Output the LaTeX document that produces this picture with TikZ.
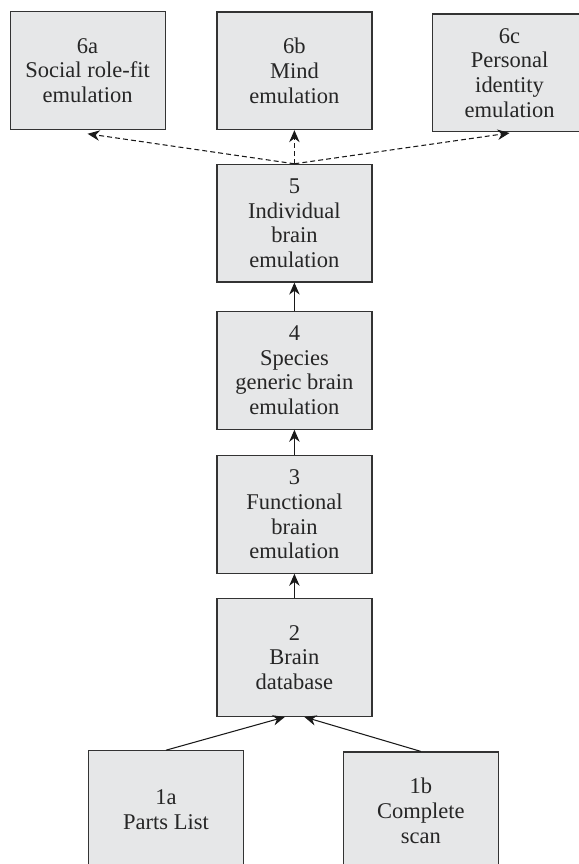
\documentclass[tikz,border=0pt]{standalone}
\usepackage{fontspec}
\setmainfont{Liberation Serif}
\usetikzlibrary{arrows.meta}
\definecolor{boxgray}{RGB}{230,231,232}
\tikzset{
    stage/.style={draw=black!80, fill=boxgray, line width=0.85pt,
        minimum width=3.875cm, minimum height=2.94cm, inner sep=0pt,
        align=center, text=black!85, font=\fontsize{16}{17.5}\selectfont},
    link/.style={-{Stealth[length=3mm,width=2.6mm]}, line width=0.75pt, draw=black!90},
    maybe/.style={link, dash pattern=on 3.5pt off 2.2pt},
}
\begin{document}
\begin{tikzpicture}
    \useasboundingbox (0,0) rectangle (14.45,21.6);

    % top row: the three emulation kinds
    \node[stage] (b6a) at (2.19,19.84) {6a\\Social role-fit\\emulation};
    \node[stage] (b6b) at (7.36,19.83) {6b\\Mind\\emulation};
    \node[stage] (b6c) at (12.74,19.78) {6c\\Personal\\identity\\emulation};

    % main column
    \node[stage] (b5) at (7.36,16.02) {5\\Individual\\brain\\emulation};
    \node[stage] (b4) at (7.36,12.34) {4\\Species\\generic brain\\emulation};
    \node[stage] (b3) at (7.36,8.74) {3\\Functional\\brain\\emulation};
    \node[stage] (b2) at (7.36,5.16) {2\\Brain\\database};

    % bottom row: the inputs
    \node[stage] (b1a) at (4.15,1.36) {1a\\Parts List};
    \node[stage] (b1b) at (10.52,1.33) {1b\\Complete\\scan};

    % solid arrows up the column
    \draw[link] (b1a.north) -- ([xshift=-0.24cm]b2.south);
    \draw[link] (b1b.north) -- ([xshift=0.25cm]b2.south);
    \draw[link] (b2) -- (b3);
    \draw[link] (b3) -- (b4);
    \draw[link] (b4) -- (b5);

    % dashed arrows to the top row
    \draw[maybe] (b5.north) -- ([yshift=-0.1cm]b6a.south);
    \draw[maybe] (b5.north) -- (b6b.south);
    \draw[maybe] (b5.north) -- ([yshift=-0.02cm]b6c.south);

\end{tikzpicture}
\end{document}
